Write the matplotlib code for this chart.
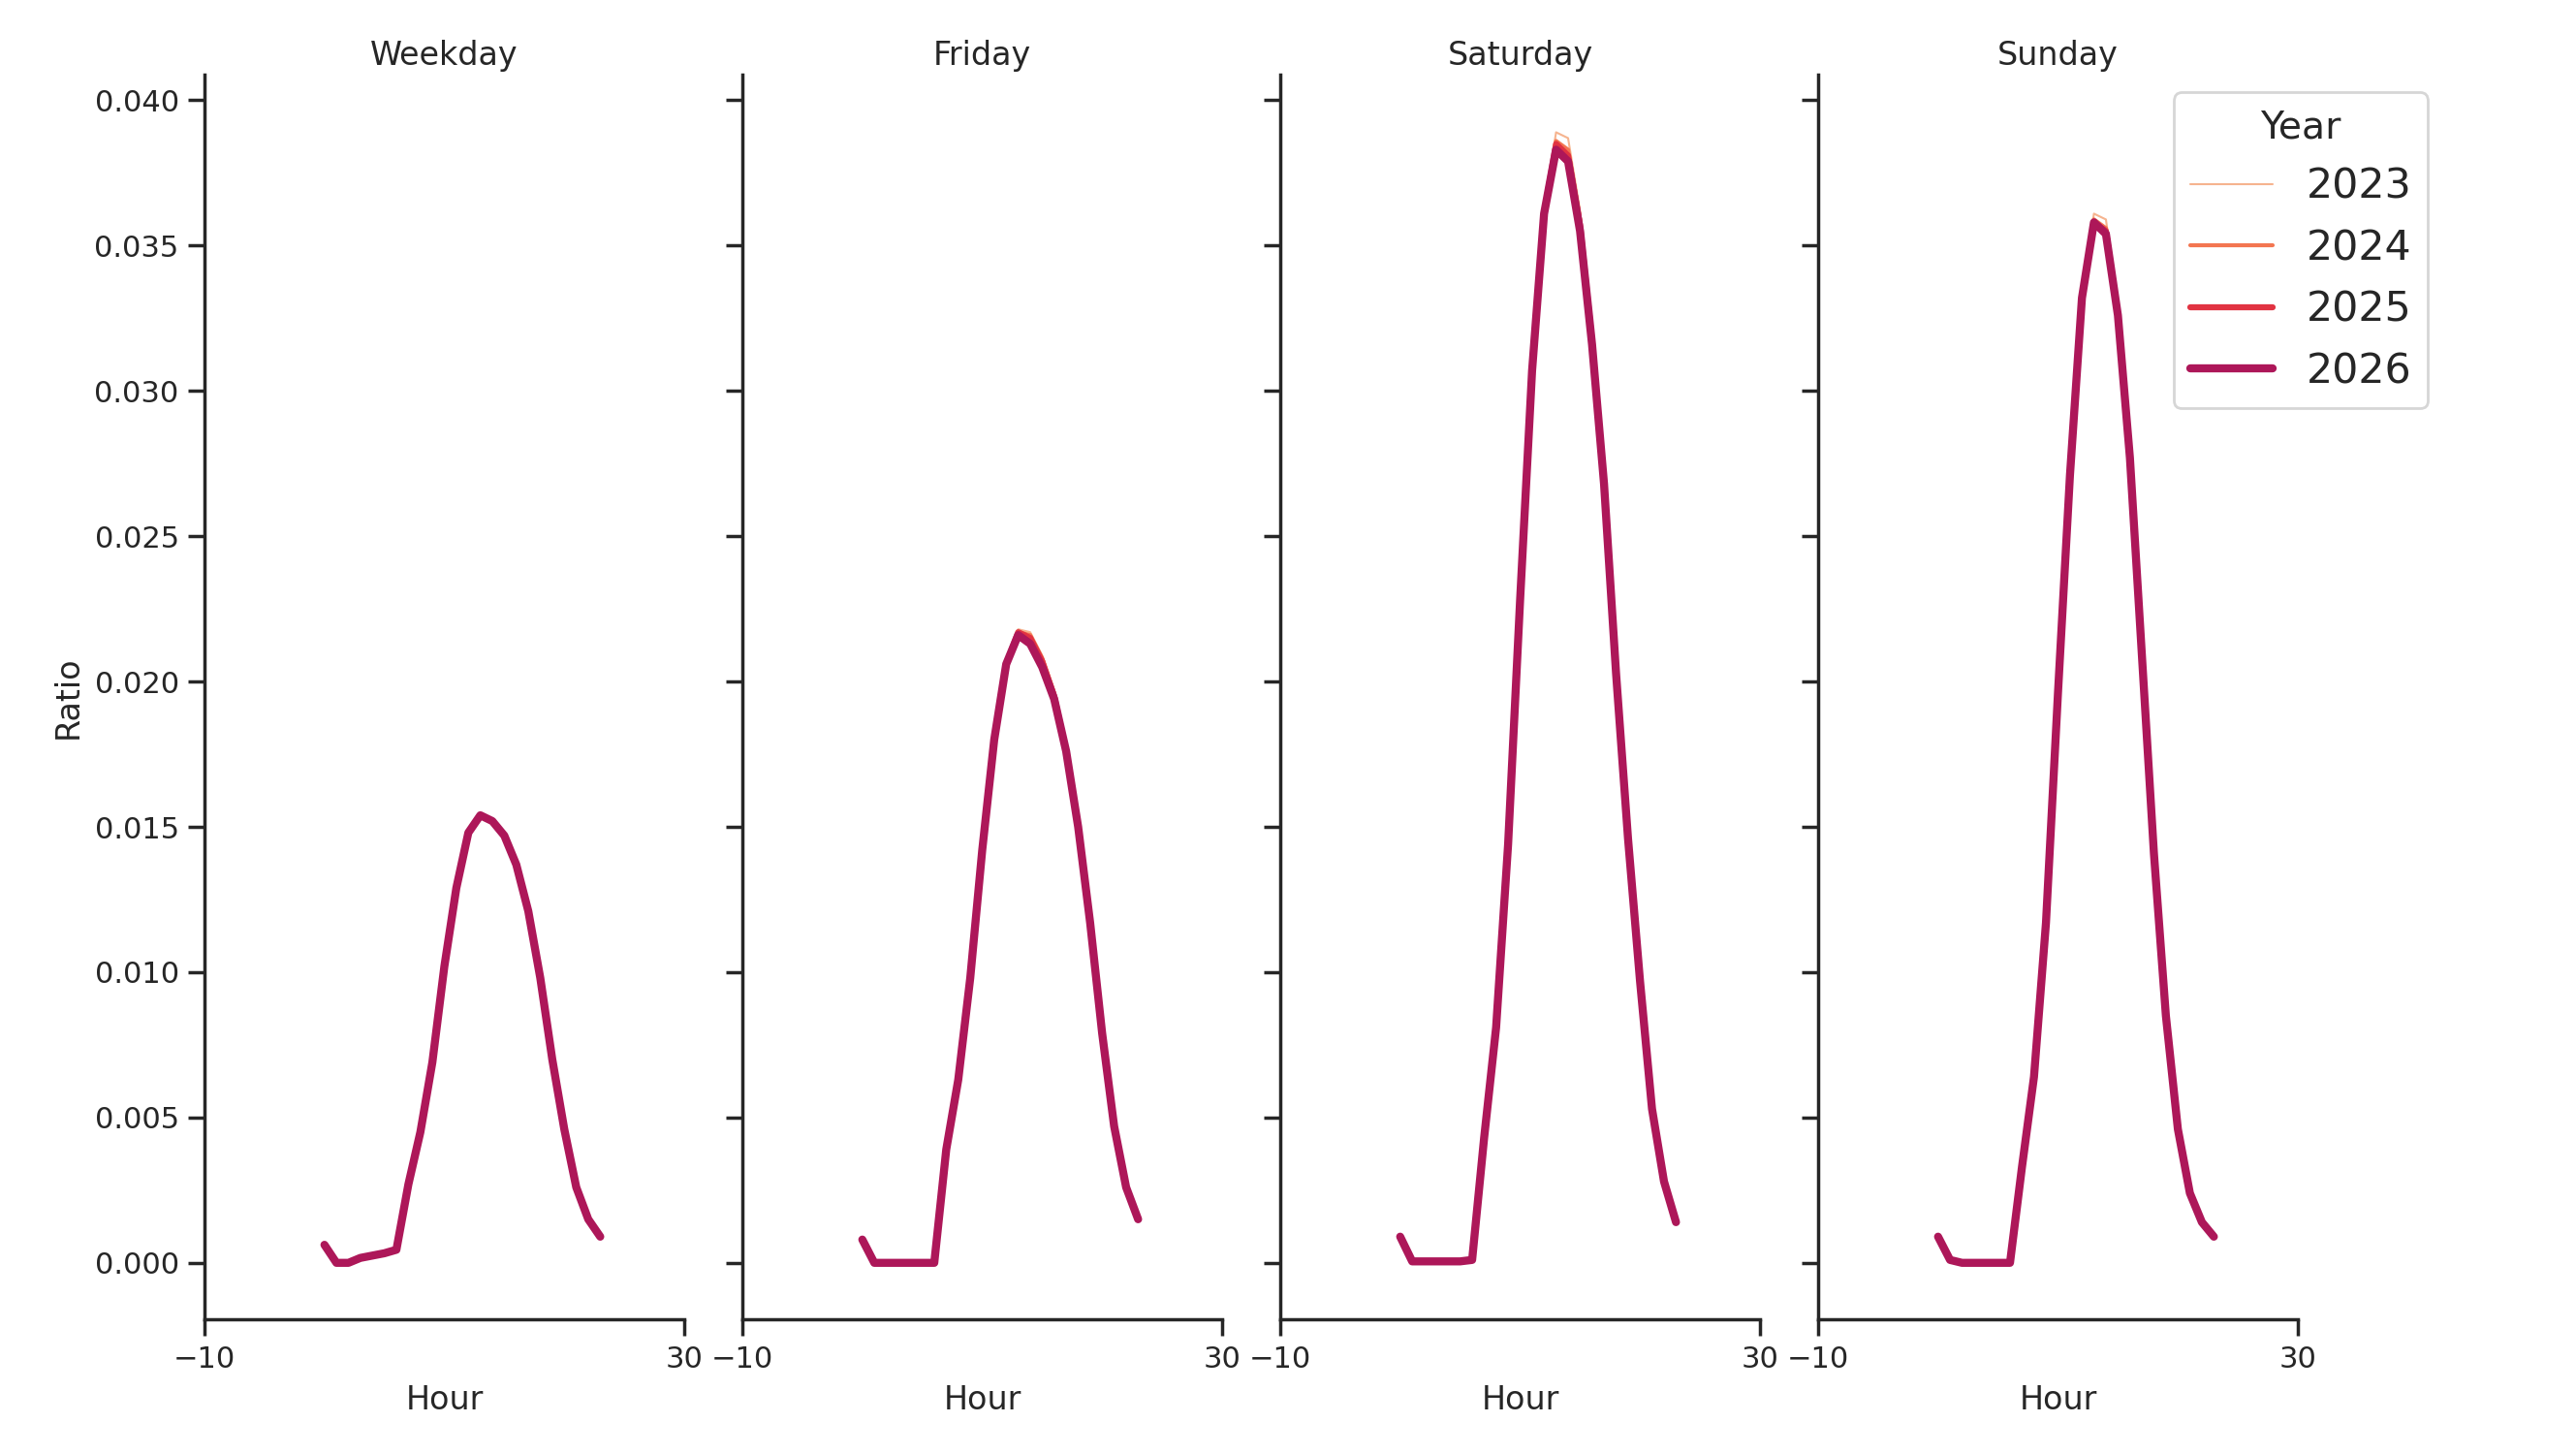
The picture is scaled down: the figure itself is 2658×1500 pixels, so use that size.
import numpy as np
import matplotlib
matplotlib.use("Agg")
import matplotlib.pyplot as plt
import seaborn as sns

sns.set_theme(context="notebook", style="ticks")

hours = list(range(24))
years = [2023, 2024, 2025, 2026]
days = ["Weekday", "Friday", "Saturday", "Sunday"]

# ratio per hour
weekday_2023 = [0.00062, 0.0, 0.0, 0.00017, 0.00025, 0.00033, 0.00045, 0.0027, 0.0045, 0.0069, 0.0102, 0.0130,
                0.0149, 0.0153, 0.0151, 0.0146, 0.0137, 0.0121, 0.0098, 0.0070, 0.0046, 0.0026, 0.0015, 0.0009]
weekday_2024 = [0.00062, 0.0, 0.0, 0.00017, 0.00025, 0.00033, 0.00045, 0.0027, 0.0045, 0.0069, 0.0102, 0.0129,
                0.0148, 0.0154, 0.0152, 0.0147, 0.0137, 0.0121, 0.0098, 0.0070, 0.0046, 0.0026, 0.0015, 0.0009]
weekday_2025 = [0.00062, 0.0, 0.0, 0.00017, 0.00025, 0.00033, 0.00045, 0.0027, 0.0045, 0.0069, 0.0102, 0.0129,
                0.0148, 0.0154, 0.0152, 0.0147, 0.0137, 0.0121, 0.0098, 0.0070, 0.0046, 0.0026, 0.0015, 0.0009]
weekday_2026 = [0.00062, 0.0, 0.0, 0.00017, 0.00025, 0.00033, 0.00045, 0.0027, 0.0045, 0.0069, 0.0102, 0.0129,
                0.0148, 0.0154, 0.0152, 0.0147, 0.0137, 0.0121, 0.0098, 0.0070, 0.0046, 0.0026, 0.0015, 0.0009]

friday_2023 = [0.0008, 0.0, 0.0, 0.0, 0.0, 0.0, 0.0, 0.0039, 0.0063, 0.0098, 0.0142, 0.0180,
               0.0207, 0.0218, 0.0217, 0.0209, 0.0197, 0.0177, 0.0151, 0.0117, 0.0079, 0.0047, 0.0026, 0.0015]
friday_2024 = [0.0008, 0.0, 0.0, 0.0, 0.0, 0.0, 0.0, 0.0039, 0.0063, 0.0098, 0.0142, 0.0180,
               0.0206, 0.0217, 0.0216, 0.0208, 0.0196, 0.0177, 0.0150, 0.0117, 0.0079, 0.0047, 0.0026, 0.0015]
friday_2025 = [0.0008, 0.0, 0.0, 0.0, 0.0, 0.0, 0.0, 0.0039, 0.0063, 0.0098, 0.0142, 0.0180,
               0.0206, 0.0217, 0.0215, 0.0207, 0.0195, 0.0176, 0.0150, 0.0117, 0.0079, 0.0047, 0.0026, 0.0015]
friday_2026 = [0.0008, 0.0, 0.0, 0.0, 0.0, 0.0, 0.0, 0.0039, 0.0063, 0.0098, 0.0142, 0.0180,
               0.0206, 0.0216, 0.0213, 0.0205, 0.0194, 0.0176, 0.0150, 0.0117, 0.0079, 0.0047, 0.0026, 0.0015]

saturday_2023 = [0.0009, 0.00005, 0.00005, 0.00005, 0.00005, 0.00005, 0.0001, 0.0043, 0.0081, 0.0144, 0.0228, 0.0308,
                 0.0362, 0.0389, 0.0387, 0.0362, 0.0319, 0.0269, 0.0203, 0.0146, 0.0097, 0.0053, 0.0028, 0.0014]
saturday_2024 = [0.0009, 0.00005, 0.00005, 0.00005, 0.00005, 0.00005, 0.0001, 0.0043, 0.0081, 0.0144, 0.0228, 0.0307,
                 0.0362, 0.0386, 0.0383, 0.0359, 0.0318, 0.0268, 0.0203, 0.0146, 0.0097, 0.0053, 0.0028, 0.0014]
saturday_2025 = [0.0009, 0.00005, 0.00005, 0.00005, 0.00005, 0.00005, 0.0001, 0.0043, 0.0081, 0.0144, 0.0228, 0.0307,
                 0.0361, 0.0385, 0.0381, 0.0357, 0.0317, 0.0268, 0.0203, 0.0146, 0.0097, 0.0053, 0.0028, 0.0014]
saturday_2026 = [0.0009, 0.00005, 0.00005, 0.00005, 0.00005, 0.00005, 0.0001, 0.0043, 0.0081, 0.0144, 0.0228, 0.0307,
                 0.0361, 0.0383, 0.0379, 0.0355, 0.0316, 0.0268, 0.0203, 0.0146, 0.0097, 0.0053, 0.0028, 0.0014]

sunday_2023 = [0.0009, 0.0001, 0.0, 0.0, 0.0, 0.0, 0.0, 0.0033, 0.0064, 0.0117, 0.0196, 0.0272,
               0.0333, 0.0361, 0.0359, 0.0329, 0.0278, 0.0209, 0.0141, 0.0085, 0.0046, 0.0024, 0.0014, 0.0009]
sunday_2024 = [0.0009, 0.0001, 0.0, 0.0, 0.0, 0.0, 0.0, 0.0033, 0.0064, 0.0117, 0.0196, 0.0271,
               0.0332, 0.0359, 0.0356, 0.0327, 0.0277, 0.0209, 0.0141, 0.0085, 0.0046, 0.0024, 0.0014, 0.0009]
sunday_2025 = [0.0009, 0.0001, 0.0, 0.0, 0.0, 0.0, 0.0, 0.0033, 0.0064, 0.0117, 0.0196, 0.0271,
               0.0332, 0.0358, 0.0355, 0.0326, 0.0277, 0.0209, 0.0141, 0.0085, 0.0046, 0.0024, 0.0014, 0.0009]
sunday_2026 = [0.0009, 0.0001, 0.0, 0.0, 0.0, 0.0, 0.0, 0.0033, 0.0064, 0.0117, 0.0196, 0.0271,
               0.0332, 0.0358, 0.0354, 0.0326, 0.0277, 0.0209, 0.0141, 0.0085, 0.0046, 0.0024, 0.0014, 0.0009]

series = {
    "Weekday": [weekday_2023, weekday_2024, weekday_2025, weekday_2026],
    "Friday": [friday_2023, friday_2024, friday_2025, friday_2026],
    "Saturday": [saturday_2023, saturday_2024, saturday_2025, saturday_2026],
    "Sunday": [sunday_2023, sunday_2024, sunday_2025, sunday_2026],
}

colors = ["#f6b48f", "#f37651", "#e13342", "#ad1759"]
widths = [0.75, 1.5, 2.25, 3.0]

fig = plt.figure(figsize=(13.29, 7.5), dpi=200)

left0 = 0.0794
w = 0.1862
gap = 0.0226
bottom = 0.0925
height = 0.8565

axes = []
for i, day in enumerate(days):
    ax = fig.add_axes([left0 + i * (w + gap), bottom, w, height],
                      sharey=axes[0] if axes else None)
    axes.append(ax)
    for j, yr in enumerate(years):
        ax.plot(hours, series[day][j], color=colors[j], lw=widths[j],
                label=str(yr), solid_capstyle="round")
    ax.set_xlim(-10, 30)
    ax.set_xticks([-10, 30])
    ax.set_ylim(-0.00195, 0.0409)
    ax.set_yticks(np.arange(0, 0.0401, 0.005))
    ax.set_title(day, pad=3.5)
    ax.set_xlabel("Hour")
    sns.despine(ax=ax)
    if i == 0:
        ax.set_ylabel("Ratio")
    else:
        ax.tick_params(labelleft=False)

handles, labels = axes[0].get_legend_handles_labels()
fig.legend(handles, labels, title="Year", loc="upper right",
           bbox_to_anchor=(0.9506, 0.9506), fontsize=15.4, title_fontsize=14.2)

fig.savefig("out.png", dpi=200)
